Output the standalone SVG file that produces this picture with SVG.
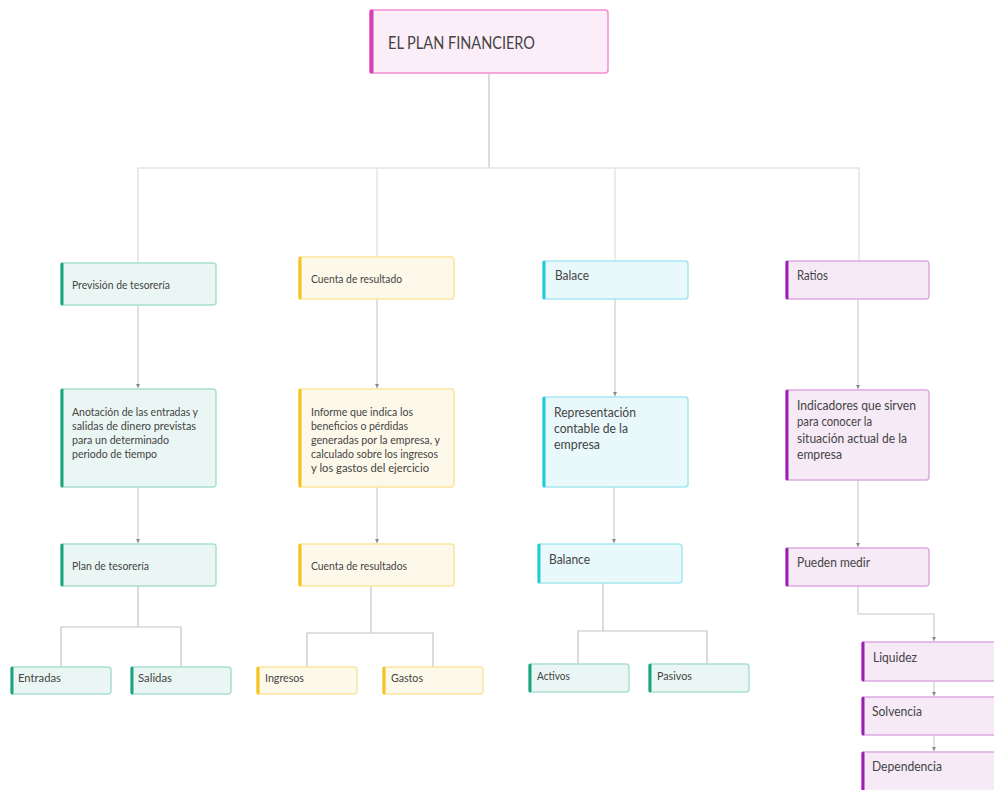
<svg xmlns="http://www.w3.org/2000/svg" width="994" height="790" viewBox="0 0 994 790">
<defs>
<marker id="arr" markerUnits="userSpaceOnUse" markerWidth="5" markerHeight="4" refX="4" refY="2" orient="auto">
<path d="M0,0 L4,2 L0,4 z" fill="#8a8a8a"/>
</marker>
<style>
.box{stroke-width:1.5}
.teal .box{fill:#eaf6f3;stroke:#a9e0d1}.teal .acc{fill:#1ba57f}
.yel .box{fill:#fdf9ea;stroke:#fde5a0}.yel .acc{fill:#f6c21c}
.cyan .box{fill:#e9f8fa;stroke:#a5e8ef}.cyan .acc{fill:#20ccd6}
.pur .box{fill:#f6eaf7;stroke:#dea9e4}.pur .acc{fill:#9c1fb1}
.mag .box{fill:#fbeef8;stroke:#f28dd4}.mag .acc{fill:#d83fb3}
text{font-family:Lato,"Open Sans","Liberation Sans",sans-serif;fill:#444}
.s{font-size:10.5px}
.m{font-size:12.5px}
.l{font-size:17px}
.c{fill:none;stroke:#c4c4c4;stroke-width:1.2}
.cl{fill:none;stroke:#e4e4e4;stroke-width:1.5}
.ca{fill:none;stroke:#c8c8c8;stroke-width:1.1;marker-end:url(#arr)}
</style>
</defs>
<rect width="994" height="790" fill="#ffffff"/>
<g id="connectors">
<path class="c" d="M489,73 V168" stroke="#aaa"/>
<path class="cl" d="M138,263 V168 H859 V261"/>
<path class="cl" d="M377,168 V257"/>
<path class="cl" d="M615,168 V261"/>
<path class="ca" d="M138,305 V388"/>
<path class="ca" d="M377,299 V388"/>
<path class="ca" d="M615,299 V396"/>
<path class="ca" d="M858,299 V389"/>
<path class="ca" d="M138,487 V543"/>
<path class="ca" d="M377,487 V543"/>
<path class="ca" d="M614,487 V543"/>
<path class="ca" d="M858,480 V547"/>
<path class="c" d="M138,586 V627"/>
<path class="c" d="M61,667 V627 H181 V667"/>
<path class="c" d="M371,586 V633"/>
<path class="c" d="M307,667 V633 H433 V667"/>
<path class="c" d="M603,583 V631"/>
<path class="c" d="M578,664 V631 H707 V664"/>
<path class="ca" d="M858,586 V614 H934 V641"/>
<path class="ca" d="M934,681 V696"/>
<path class="ca" d="M934,735 V751"/>
</g>
<g id="n-plan" class="mag"><rect class="box" x="370" y="10" width="238" height="63" rx="3"/><rect class="acc" x="369.5" y="9.5" width="4" height="64" rx="1.5"/><text class="l" x="388" y="49" textLength="147" lengthAdjust="spacingAndGlyphs">EL PLAN FINANCIERO</text></g>

<g id="n-prevision" class="teal"><rect class="box" x="61" y="263" width="155" height="42" rx="3"/><rect class="acc" x="60.5" y="262.5" width="3" height="43" rx="1.5"/><text class="s" x="72" y="289" textLength="98" lengthAdjust="spacingAndGlyphs">Previsión de tesorería</text></g>
<g id="n-cuenta1" class="yel"><rect class="box" x="299" y="257" width="155" height="42" rx="3"/><rect class="acc" x="298.5" y="256.5" width="3" height="43" rx="1.5"/><text class="s" x="311" y="283" textLength="91" lengthAdjust="spacingAndGlyphs">Cuenta de resultado</text></g>
<g id="n-balace" class="cyan"><rect class="box" x="543" y="261" width="145" height="38" rx="3"/><rect class="acc" x="542.5" y="260.5" width="3" height="39" rx="1.5"/><text class="m" x="555" y="279.5" textLength="34" lengthAdjust="spacingAndGlyphs">Balace</text></g>
<g id="n-ratios" class="pur"><rect class="box" x="786" y="261" width="143" height="38" rx="3"/><rect class="acc" x="785.5" y="260.5" width="3" height="39" rx="1.5"/><text class="m" x="797" y="279.5" textLength="31" lengthAdjust="spacingAndGlyphs">Ratios</text></g>

<g id="n-anotacion" class="teal"><rect class="box" x="61" y="389" width="155" height="98" rx="3"/><rect class="acc" x="60.5" y="388.5" width="3" height="99" rx="1.5"/>
<text class="s" x="72" y="416" textLength="126" lengthAdjust="spacingAndGlyphs">Anotación de las entradas y</text>
<text class="s" x="72" y="430" textLength="124" lengthAdjust="spacingAndGlyphs">salidas de dinero previstas</text>
<text class="s" x="72" y="444" textLength="97" lengthAdjust="spacingAndGlyphs">para un determinado</text>
<text class="s" x="72" y="457.5" textLength="85" lengthAdjust="spacingAndGlyphs">periodo de tiempo</text></g>
<g id="n-informe" class="yel"><rect class="box" x="299" y="389" width="155" height="98" rx="3"/><rect class="acc" x="298.5" y="388.5" width="3" height="99" rx="1.5"/>
<text class="s" x="311" y="416" textLength="102" lengthAdjust="spacingAndGlyphs">Informe que indica los</text>
<text class="s" x="311" y="430" textLength="97" lengthAdjust="spacingAndGlyphs">beneficios o pérdidas</text>
<text class="s" x="311" y="444" textLength="129" lengthAdjust="spacingAndGlyphs">generadas por la empresa, y</text>
<text class="s" x="311" y="458" textLength="127" lengthAdjust="spacingAndGlyphs">calculado sobre los ingresos</text>
<text class="s" x="311" y="472" textLength="118" lengthAdjust="spacingAndGlyphs">y los gastos del ejercicio</text></g>
<g id="n-representacion" class="cyan"><rect class="box" x="543" y="397" width="145" height="90" rx="3"/><rect class="acc" x="542.5" y="396.5" width="3" height="91" rx="1.5"/>
<text class="m" x="554" y="417" textLength="82" lengthAdjust="spacingAndGlyphs">Representación</text>
<text class="m" x="554" y="433" textLength="74" lengthAdjust="spacingAndGlyphs">contable de la</text>
<text class="m" x="554" y="448.5" textLength="46" lengthAdjust="spacingAndGlyphs">empresa</text></g>
<g id="n-indicadores" class="pur"><rect class="box" x="786" y="390" width="143" height="90" rx="3"/><rect class="acc" x="785.5" y="389.5" width="3" height="91" rx="1.5"/>
<text class="m" x="797" y="409.5" textLength="119" lengthAdjust="spacingAndGlyphs">Indicadores que sirven</text>
<text class="m" x="797" y="426" textLength="75" lengthAdjust="spacingAndGlyphs">para conocer la</text>
<text class="m" x="797" y="443" textLength="110" lengthAdjust="spacingAndGlyphs">situación actual de la</text>
<text class="m" x="797" y="458.5" textLength="45" lengthAdjust="spacingAndGlyphs">empresa</text></g>

<g id="n-plantesoreria" class="teal"><rect class="box" x="61" y="544" width="155" height="42" rx="3"/><rect class="acc" x="60.5" y="543.5" width="3" height="43" rx="1.5"/><text class="s" x="72" y="570" textLength="77" lengthAdjust="spacingAndGlyphs">Plan de tesorería</text></g>
<g id="n-cuenta2" class="yel"><rect class="box" x="299" y="544" width="155" height="42" rx="3"/><rect class="acc" x="298.5" y="543.5" width="3" height="43" rx="1.5"/><text class="s" x="311" y="570" textLength="96" lengthAdjust="spacingAndGlyphs">Cuenta de resultados</text></g>
<g id="n-balance" class="cyan"><rect class="box" x="538" y="544" width="144" height="39" rx="3"/><rect class="acc" x="537.5" y="543.5" width="3" height="40" rx="1.5"/><text class="m" x="549" y="563.5" textLength="41" lengthAdjust="spacingAndGlyphs">Balance</text></g>
<g id="n-pueden" class="pur"><rect class="box" x="786" y="548" width="143" height="38" rx="3"/><rect class="acc" x="785.5" y="547.5" width="3" height="39" rx="1.5"/><text class="m" x="797" y="566.5" textLength="73" lengthAdjust="spacingAndGlyphs">Pueden medir</text></g>

<g id="n-entradas" class="teal"><rect class="box" x="11" y="667" width="100" height="27" rx="3"/><rect class="acc" x="10.5" y="666.5" width="3" height="28" rx="1.5"/><text class="s" x="18" y="682" textLength="43" lengthAdjust="spacingAndGlyphs">Entradas</text></g>
<g id="n-salidas" class="teal"><rect class="box" x="131" y="667" width="100" height="27" rx="3"/><rect class="acc" x="130.5" y="666.5" width="3" height="28" rx="1.5"/><text class="s" x="138" y="682" textLength="34" lengthAdjust="spacingAndGlyphs">Salidas</text></g>
<g id="n-ingresos" class="yel"><rect class="box" x="257" y="667" width="100" height="27" rx="3"/><rect class="acc" x="256.5" y="666.5" width="3" height="28" rx="1.5"/><text class="s" x="265" y="682" textLength="39" lengthAdjust="spacingAndGlyphs">Ingresos</text></g>
<g id="n-gastos" class="yel"><rect class="box" x="383" y="667" width="100" height="27" rx="3"/><rect class="acc" x="382.5" y="666.5" width="3" height="28" rx="1.5"/><text class="s" x="391" y="682" textLength="32" lengthAdjust="spacingAndGlyphs">Gastos</text></g>
<g id="n-activos" class="teal"><rect class="box" x="529" y="664" width="100" height="28" rx="3"/><rect class="acc" x="528.5" y="663.5" width="3" height="29" rx="1.5"/><text class="s" x="537" y="680" textLength="33" lengthAdjust="spacingAndGlyphs">Activos</text></g>
<g id="n-pasivos" class="teal"><rect class="box" x="649" y="664" width="100" height="28" rx="3"/><rect class="acc" x="648.5" y="663.5" width="3" height="29" rx="1.5"/><text class="s" x="657" y="680" textLength="35" lengthAdjust="spacingAndGlyphs">Pasivos</text></g>

<g id="n-liquidez" class="pur"><rect class="box" x="862" y="642" width="144" height="39" rx="3"/><rect class="acc" x="861.5" y="641.5" width="3" height="40" rx="1.5"/><text class="m" x="873" y="661.5" textLength="44" lengthAdjust="spacingAndGlyphs">Liquidez</text></g>
<g id="n-solvencia" class="pur"><rect class="box" x="862" y="697" width="144" height="38" rx="3"/><rect class="acc" x="861.5" y="696.5" width="3" height="39" rx="1.5"/><text class="m" x="872" y="716" textLength="50" lengthAdjust="spacingAndGlyphs">Solvencia</text></g>
<g id="n-dependencia" class="pur"><rect class="box" x="862" y="752" width="144" height="45" rx="3"/><rect class="acc" x="861.5" y="751.5" width="3" height="46" rx="1.5"/><text class="m" x="872" y="771" textLength="70" lengthAdjust="spacingAndGlyphs">Dependencia</text></g>
</svg>
